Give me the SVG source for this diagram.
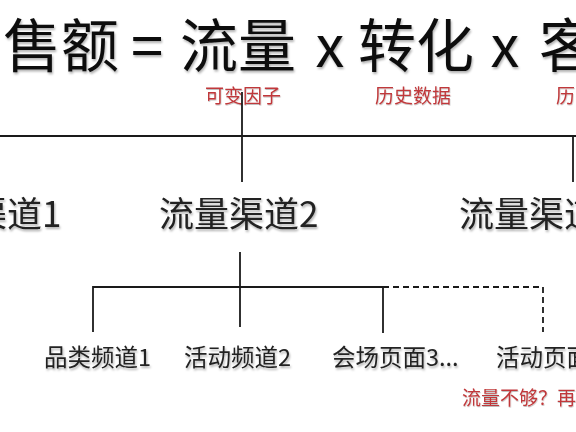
<svg xmlns="http://www.w3.org/2000/svg" width="576" height="432" viewBox="0 0 576 432">
  <defs>
    <filter id="shadow" x="-10%" y="-20%" width="120%" height="150%">
      <feDropShadow dx="1" dy="2" stdDeviation="1.2" flood-color="#000" flood-opacity="0.3"/>
    </filter>
    <filter id="lshadow" x="-5%" y="-50%" width="110%" height="200%">
      <feDropShadow dx="0.5" dy="1" stdDeviation="0.6" flood-color="#000" flood-opacity="0.25"/>
    </filter>
  </defs>
  <style>
    text { font-family: "Noto Sans CJK SC", "Noto Sans", sans-serif; }
    .title { font-size: 58px; fill: #111; filter: url(#shadow); }
    .lvl2 { font-size: 35px; fill: #222; filter: url(#shadow); }
    .lvl3 { font-size: 23.5px; fill: #222; filter: url(#shadow); }
    .note { font-size: 19px; fill: #c0393b; filter: url(#lshadow); }
    .line { stroke: #1a1a1a; stroke-width: 1.8; fill: none; }
    .dash { stroke: #1a1a1a; stroke-width: 1.8; fill: none; stroke-dasharray: 6 4; }
  </style>
  <rect width="576" height="432" fill="#fff"/>

  <g id="formula">
    <text class="title" x="3" y="67">售额</text>
    <text class="title" x="147" y="67" text-anchor="middle">=</text>
    <text class="title" x="180" y="67">流量</text>
    <text class="title" x="330" y="67" text-anchor="middle">x</text>
    <text class="title" x="358" y="67">转化</text>
    <text class="title" x="505" y="67" text-anchor="middle">x</text>
    <text class="title" x="539" y="67">客</text>
  </g>

  <g id="notes-top">
    <text class="note" x="205" y="103">可变因子</text>
    <text class="note" x="375" y="103">历史数据</text>
    <text class="note" x="556" y="103">历</text>
  </g>

  <g id="connectors">
    <line class="line" x1="242" y1="92" x2="242" y2="182"/>
    <line class="line" x1="0" y1="136" x2="576" y2="136"/>
    <line class="line" x1="573" y1="136" x2="573" y2="182"/>
    <line class="line" x1="240" y1="252" x2="240" y2="327"/>
    <line class="line" x1="93" y1="287" x2="383" y2="287"/>
    <line class="line" x1="93" y1="286.1" x2="93" y2="332"/>
    <line class="line" x1="383" y1="286.1" x2="383" y2="333"/>
    <path class="dash" d="M383,287 H543 V332"/>
  </g>

  <g id="channel-1">
    <text class="lvl2" x="-28" y="227">渠道1</text>
  </g>
  <g id="channel-2">
    <text class="lvl2" x="159" y="227">流量渠道2</text>
  </g>
  <g id="channel-3">
    <text class="lvl2" x="459" y="227">流量渠道</text>
  </g>

  <g id="page-1">
    <text class="lvl3" x="44" y="366">品类频道1</text>
  </g>
  <g id="page-2">
    <text class="lvl3" x="184" y="366">活动频道2</text>
  </g>
  <g id="page-3">
    <text class="lvl3" x="332" y="366">会场页面3...</text>
  </g>
  <g id="page-4">
    <text class="lvl3" x="496" y="366">活动页面</text>
  </g>

  <g id="note-bottom">
    <text class="note" x="462" y="405">流量不够？再</text>
  </g>
</svg>
